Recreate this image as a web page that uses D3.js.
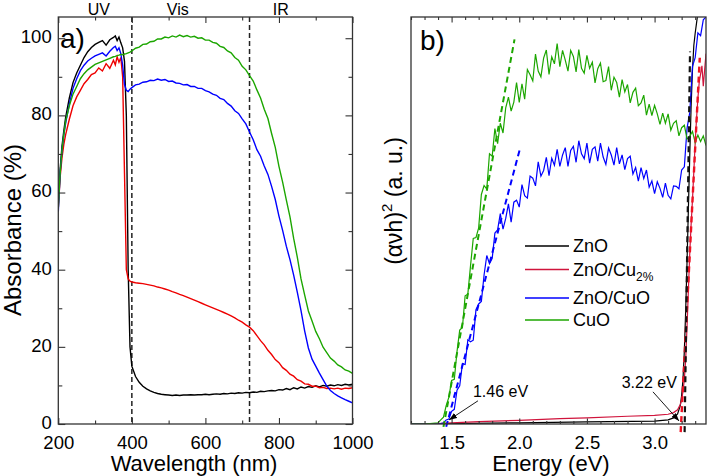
<!DOCTYPE html>
<html><head><meta charset="utf-8">
<script src="https://cdn.jsdelivr.net/npm/d3@7"></script>
<style>body{margin:0;background:#fff}svg{display:block;font-family:"Liberation Sans",Arial,Helvetica,sans-serif}</style>
</head><body>
<script>
// ---------- Panel a) data ----------
const wavelength = [200,205,210,215,220,230,240,250,260,270,280,290,300,310,320,330,340,350,355,360,365,370,375,380,385,390,395,400,410,420,430,440,450,460,470,480,490,500,510,520,530,540,550,560,570,580,590,600,610,620,630,640,650,660,670,680,690,700,710,720,730,740,750,760,770,780,790,800,810,820,830,840,850,860,870,880,890,900,910,920,930,940,950,960,970,980,990,1000];
const absZnO = [57,66,72,76,79.5,84.5,88.5,91,93,95,96.5,97.6,98.4,98.9,99.4,98.2,99.6,100.2,100.6,99.4,100.3,98.8,97.5,94,80,40,20,15,12.3,10.8,9.8,9.1,8.6,8.2,7.9,7.7,7.6,7.5,7.4,7.5,7.4,7.5,7.5,7.6,7.5,7.6,7.6,7.7,7.6,7.7,7.8,7.7,7.9,7.8,8.0,7.9,8.1,8.0,8.2,8.1,8.3,8.2,8.5,8.4,8.6,8.7,8.6,8.9,8.8,9.2,8.9,9.4,9.1,9.6,9.3,9.7,9.5,9.9,9.6,10.0,9.8,10.1,9.9,10.2,10.0,10.3,10.1,10.3];
const absZnOCu = [56,64,69,72.5,75,79,82.5,84.8,86.5,88.2,89.3,90.6,91,92.3,91.5,93.4,92.2,94.3,93.1,95.2,93.8,95,90,65,40,37.6,37.0,36.8,36.6,36.5,36.4,36.2,36.0,35.8,35.5,35.3,35.0,34.7,34.3,34.0,33.6,33.3,32.9,32.5,32.1,31.7,31.3,30.9,30.5,30.1,29.7,29.3,28.9,28.5,28.0,27.5,26.9,26.4,25.7,25.1,24.2,22.9,21.6,20.5,19.1,18.0,16.7,15.9,14.6,13.9,12.9,12.4,11.5,11.1,10.4,10.3,9.8,9.8,9.4,9.5,9.2,9.3,9.1,9.3,9.0,9.3,9.2,9.4];
const absZnOCuO = [55,65,71,75,78,83,87,89.5,91.6,93,94.1,94.8,95.4,95.8,96.2,95.4,96.6,97.6,97.9,96.8,97.5,96,93,88,86.5,86.2,86.8,87.2,87.9,88.1,88.6,88.7,89.1,89.0,89.4,89.1,89.3,88.8,88.9,88.4,88.3,87.9,88.0,87.5,87.5,87.0,87.0,86.4,86.1,85.5,85.2,84.4,84.1,83.1,82.4,81.2,80.5,79.1,77.8,75.7,73.7,71.1,69.4,66.9,64.7,61.6,58.2,53.9,50.2,46.1,42.6,38.6,34.1,29.4,24.1,19.7,16.8,15.0,13.2,11.5,9.8,8.7,7.9,7.3,6.8,6.3,5.9,5.5];
const absCuO = [56,65,71,75,78.5,82.5,85.5,87.5,89.5,90.8,91.8,92.5,93.2,93.6,94.0,94.4,94.8,95.2,95.3,95.5,95.6,95.8,95.7,95.9,96.0,96.2,96.4,96.7,97.4,97.7,98.4,98.5,99.1,99.2,99.8,99.8,100.3,100.1,100.6,100.3,100.8,100.4,100.7,100.3,100.5,100.0,100.1,99.5,99.5,98.9,98.7,97.9,97.6,96.7,96.2,95.0,94.3,92.7,91.8,90.3,88.9,86.6,84.5,81.6,79.2,75.3,71.7,66.8,62.7,58.1,53.7,48.1,43.2,37.6,33.4,29.3,26.7,24.0,22.1,19.9,18.5,17.1,16.3,15.3,14.8,14.0,13.7,13.1];
const xTicksA = [200,400,600,800,1000];
const xMinorA = [300,500,700,900];
const yTicksA = [0,20,40,60,80,100];
const yMinorA = [10,30,50,70,90];
const regionLabels = ["UV","Vis","IR"];
const regionCenters = [310,525,805];
const regionBounds = [400,720];

// ---------- Panel b) data ----------
const energy = [1.2,1.3,1.4,1.42,1.44,1.46,1.48,1.5,1.52,1.54,1.56,1.58,1.6,1.62,1.64,1.66,1.68,1.7,1.72,1.74,1.76,1.78,1.8,1.82,1.84,1.86,1.88,1.9,1.92,1.94,1.96,1.98,2.0,2.02,2.04,2.06,2.08,2.1,2.12,2.14,2.16,2.18,2.2,2.22,2.24,2.26,2.28,2.3,2.32,2.34,2.36,2.38,2.4,2.42,2.44,2.46,2.48,2.5,2.52,2.54,2.56,2.58,2.6,2.62,2.64,2.66,2.68,2.7,2.72,2.74,2.76,2.78,2.8,2.82,2.84,2.86,2.88,2.9,2.92,2.94,2.96,2.98,3.0,3.02,3.04,3.06,3.08,3.1,3.12,3.14,3.16,3.18,3.2,3.22,3.24,3.26,3.28,3.3,3.32,3.34,3.36,3.38];
const taucCuO = [0,0,0.3,1.0,1.7,4.5,6.6,10.7,11.0,17.8,23.1,23.7,31.5,31.9,38.9,45.6,45.8,48.2,56.4,58.6,57.7,66.4,65.8,72.6,68.9,73.9,71.5,77.7,80.3,76.9,79.1,83.9,79.0,83.6,79.8,87.1,85.8,84.3,90.9,86.7,85.3,89.9,91.9,85.9,90.2,88.5,93.5,87.8,91.8,89.4,86.7,91.8,90.3,86.5,92.0,87.4,86.2,90.6,87.4,88.9,83.8,87.3,88.7,84.1,84.4,87.8,82.0,85.2,83.9,80.3,84.6,81.6,83.4,78.9,81.5,82.5,78.2,78.9,80.8,75.9,78.6,75.8,78.3,76.2,73.6,76.4,73.9,76.2,72.2,73.9,74.5,70.8,72.8,73.4,70.0,70.7,71.9,69.2,71.0,69.4,70.8,68.4];
const taucZnOCuO = [0,0,0,0.1,0.3,1.0,1.2,3.1,3.6,8.3,9.4,14.8,14.6,20.7,20.2,20.6,28.1,29.5,30.1,36.6,41.4,39.4,40.7,46.9,47.7,51.7,47.9,50.5,54.1,49.6,54.5,55.0,53.3,58.8,56.1,55.5,60.9,60.4,58.5,64.4,60.9,62.3,65.5,61.0,65.3,63.6,67.5,63.3,66.1,67.9,63.3,67.2,68.2,64.3,69.6,66.4,65.2,69.0,64.1,67.5,68.1,64.6,69.0,65.6,63.8,67.8,66.1,63.6,67.9,63.9,66.1,62.5,65.2,65.8,61.4,63.0,59.7,63.0,60.3,62.4,58.2,59.7,56.6,59.5,57.9,55.7,59.2,56.2,55.3,58.5,58.4,57.8,62.4,63.2,72.7,76.5,87.9,90.0,96.1,95.4,99.3,100];
const energyZnO = [1.2,1.5,2.0,2.5,3.0,3.1,3.14,3.17,3.19,3.2,3.21,3.22,3.23,3.24,3.25,3.26,3.27,3.28,3.29,3.3,3.31,3.32];
const taucZnO = [0,0.1,0.3,0.5,0.7,1.0,1.5,2.5,4.5,7,11,18,28,40,53,66,78,87,93,96,98.5,101];
const energyZnOCu = [1.2,1.4,1.5,1.7,2.0,2.3,2.5,2.8,3.0,3.1,3.14,3.17,3.19,3.2,3.21,3.22,3.23,3.24,3.25,3.26,3.27,3.28,3.29,3.3,3.31,3.32,3.33,3.34,3.35,3.36,3.37,3.38];
const taucZnOCu = [0,0.1,0.3,0.6,0.9,1.3,1.5,1.9,2.1,2.4,2.8,3.5,4.8,6,8,11,16,24,33,42,49,55,62,69,75,80,84,86,88,83,87,91];
const fitCuO = [[1.44,-0.7],[1.965,94.5]];
const fitZnOCuO = [[1.46,-0.7],[2.008,68]];
const fitZnO = [[3.222,-2],[3.262,91.5]];
const fitZnOCu = [[3.193,-2],[3.334,90]];
const xTicksB = [1.5,2.0,2.5,3.0];
const xMinorB = [1.2,1.3,1.4,1.6,1.7,1.8,1.9,2.1,2.2,2.3,2.4,2.6,2.7,2.8,2.9,3.1,3.2,3.3];
const seriesNames = ["ZnO","ZnO/Cu","ZnO/CuO","CuO"];
const seriesSubs = ["","2%","",""];
const gapLabels = ["1.46 eV","3.22 eV"];
// label anchor, arrow start, arrow tip (data units)
const gapNotes = [[1.658,6.6,1.695,5.7,1.481,1.0],[2.757,8.85,2.988,7.9,3.181,0.74]];

// ---------- styles ----------
const colA = {ZnO:"#000000", ZnOCu:"#ee0000", ZnOCuO:"#0000ff", CuO:"#1ca600"};
const colB = ["#000000","#d0143c","#0000ff","#1ca600"];
const FONT = '"Liberation Sans",Arial,sans-serif';
const TICKFS = 18.5;

const W=708,H=476;
const svg = d3.select("body").append("svg").attr("width",W).attr("height",H);
const defs = svg.append("defs");
defs.append("marker").attr("id","arr").attr("markerUnits","userSpaceOnUse")
  .attr("markerWidth",8).attr("markerHeight",6).attr("refX",8).attr("refY",3).attr("orient","auto")
  .append("path").attr("d","M0,0 L8,3 L0,6 Z").attr("fill","#000");

const yTop=17, yBot=424;
const xA = d3.scaleLinear().domain([200,1000]).range([58.3,352.5]);
const yA = d3.scaleLinear().domain([0,105.5]).range([yBot,yTop]);
const xB = d3.scaleLinear().domain([1.2,3.38]).range([411,706]);
const yB = d3.scaleLinear().domain([0,100]).range([yBot,yTop]);

defs.append("clipPath").attr("id","clipA").append("rect").attr("x",58.3).attr("y",yTop).attr("width",352.5-58.3).attr("height",yBot-yTop);
defs.append("clipPath").attr("id","clipB").append("rect").attr("x",411).attr("y",yTop).attr("width",706-411).attr("height",yBot-yTop);

function ticks(g, axisFn, scale, vals, size, pos, withLabels, fmt, pad){
  const ax = axisFn(scale).tickValues(vals).tickSize(-size).tickSizeOuter(0).tickPadding(pad||0);
  if(withLabels) ax.tickFormat(fmt); else ax.tickFormat("");
  const a = g.append("g").attr("transform",pos).call(ax);
  a.select(".domain").remove();
  a.selectAll("line").attr("stroke","#333").attr("stroke-width",1.1);
  a.selectAll("text").attr("font-family",FONT).attr("font-size",TICKFS).attr("fill","#000");
  return a;
}

// ===== Panel a =====
const gA = svg.append("g");
regionBounds.forEach(v=>{
  gA.append("line").attr("x1",xA(v)).attr("x2",xA(v)).attr("y1",yTop).attr("y2",yBot)
    .attr("stroke","#222").attr("stroke-width",1.5).attr("stroke-dasharray","5,3");
});
const lineA = d3.line().x((d,i)=>xA(wavelength[i])).y(d=>yA(d));
const seriesA = [[absZnO,colA.ZnO],[absZnOCu,colA.ZnOCu],[absZnOCuO,colA.ZnOCuO],[absCuO,colA.CuO]];
const curvesA = gA.append("g").attr("clip-path","url(#clipA)");
seriesA.forEach(([vals,c])=>{
  curvesA.append("path").datum(vals).attr("d",lineA).attr("fill","none").attr("stroke",c).attr("stroke-width",1.4);
});
ticks(gA, d3.axisBottom, xA, xTicksA, 6, `translate(0,${yBot})`, true, d3.format("d"), 11.6);
ticks(gA, d3.axisBottom, xA, xMinorA, 3.5, `translate(0,${yBot})`, false);
ticks(gA, d3.axisTop, xA, xTicksA, 6, `translate(0,${yTop})`, false);
ticks(gA, d3.axisTop, xA, xMinorA, 3.5, `translate(0,${yTop})`, false);
ticks(gA, d3.axisLeft, yA, yTicksA, 7, `translate(${xA.range()[0]},0)`, true, d3.format("d"), 6.6)
  .selectAll("text").attr("dy","0.24em");
ticks(gA, d3.axisLeft, yA, yMinorA, 4, `translate(${xA.range()[0]},0)`, false);
ticks(gA, d3.axisRight, yA, yTicksA, 7, `translate(${xA.range()[1]},0)`, false);
ticks(gA, d3.axisRight, yA, yMinorA, 4, `translate(${xA.range()[1]},0)`, false);
gA.append("rect").attr("x",xA.range()[0]).attr("y",yTop).attr("width",xA.range()[1]-xA.range()[0]).attr("height",yBot-yTop)
  .attr("fill","none").attr("stroke","#333").attr("stroke-width",1.3);
regionLabels.forEach((t,i)=>{
  gA.append("text").attr("x",xA(regionCenters[i])).attr("y",15).attr("text-anchor","middle")
    .attr("font-family",FONT).attr("font-size",16).text(t);
});
gA.append("text").attr("x",60).attr("y",48).attr("font-family",FONT).attr("font-size",28).text("a)");
gA.append("text").attr("x",194).attr("y",471).attr("text-anchor","middle").attr("font-family",FONT).attr("font-size",22).text("Wavelength (nm)");
gA.append("text").attr("transform","translate(21,230) rotate(-90)").attr("text-anchor","middle").attr("font-family",FONT).attr("font-size",24).text("Absorbance (%)");

// ===== Panel b =====
const gB = svg.append("g");
const curvesB = gB.append("g").attr("clip-path","url(#clipB)");
const lineE = (xs)=>d3.line().x((d,i)=>xB(xs[i])).y(d=>yB(d));
curvesB.append("path").datum(taucZnO).attr("d",lineE(energyZnO)).attr("fill","none").attr("stroke",colB[0]).attr("stroke-width",1.2);
curvesB.append("path").datum(taucZnOCu).attr("d",lineE(energyZnOCu)).attr("fill","none").attr("stroke",colB[1]).attr("stroke-width",1.2);
curvesB.append("path").datum(taucZnOCuO).attr("d",lineE(energy)).attr("fill","none").attr("stroke",colB[2]).attr("stroke-width",1.2);
curvesB.append("path").datum(taucCuO).attr("d",lineE(energy)).attr("fill","none").attr("stroke",colB[3]).attr("stroke-width",1.2);
const fitLine = d3.line().x(d=>xB(d[0])).y(d=>yB(d[1]));
[[fitCuO,colB[3],2],[fitZnOCuO,colB[2],2],[fitZnOCu,"#ee1122",2.4],[fitZnO,"#111",2.2]].forEach(([f,c,w])=>{
  gB.append("path").datum(f).attr("d",fitLine).attr("fill","none").attr("stroke",c).attr("stroke-width",w).attr("stroke-dasharray","6,4");
});
ticks(gB, d3.axisBottom, xB, xTicksB, 5.5, `translate(0,${yBot})`, true, d3.format(".1f"), 11.6);
ticks(gB, d3.axisBottom, xB, xMinorB, 3, `translate(0,${yBot})`, false);
ticks(gB, d3.axisTop, xB, xTicksB, 5.5, `translate(0,${yTop})`, false);
ticks(gB, d3.axisTop, xB, xMinorB, 3, `translate(0,${yTop})`, false);
gB.append("rect").attr("x",xB.range()[0]).attr("y",yTop).attr("width",xB.range()[1]-xB.range()[0]).attr("height",yBot-yTop)
  .attr("fill","none").attr("stroke","#333").attr("stroke-width",1.3);
gB.append("text").attr("x",420).attr("y",50).attr("font-family",FONT).attr("font-size",28).text("b)");
gB.append("text").attr("x",551).attr("y",471).attr("text-anchor","middle").attr("font-family",FONT).attr("font-size",22).text("Energy (eV)");
const yl = gB.append("text").attr("transform","translate(402,201) rotate(-90)").attr("text-anchor","middle").attr("font-family",FONT).attr("font-size",23);
yl.append("tspan").text("(\u03b1\u03bdh)");
yl.append("tspan").attr("font-size",15).attr("dy",-10).text("2");
yl.append("tspan").attr("dy",10).text(" (a. u.)");

const legY = [246,269.5,298,320];
seriesNames.forEach((n,i)=>{
  gB.append("line").attr("x1",525).attr("x2",569).attr("y1",legY[i]).attr("y2",legY[i]).attr("stroke",colB[i]).attr("stroke-width",1.5);
  const t = gB.append("text").attr("x",573).attr("y",legY[i]+6).attr("font-family",FONT).attr("font-size",18);
  t.append("tspan").text(n);
  if(seriesSubs[i]) t.append("tspan").attr("font-size",12).attr("dy",5).text(seriesSubs[i]);
});
gapNotes.forEach((a,i)=>{
  gB.append("text").attr("x",xB(a[0])).attr("y",yB(a[1])).attr("font-family",FONT).attr("font-size",16).text(gapLabels[i]);
  gB.append("line").attr("x1",xB(a[2])).attr("y1",yB(a[3])).attr("x2",xB(a[4])).attr("y2",yB(a[5]))
    .attr("stroke","#000").attr("stroke-width",0.9).attr("marker-end","url(#arr)");
});
</script>
</body></html>
